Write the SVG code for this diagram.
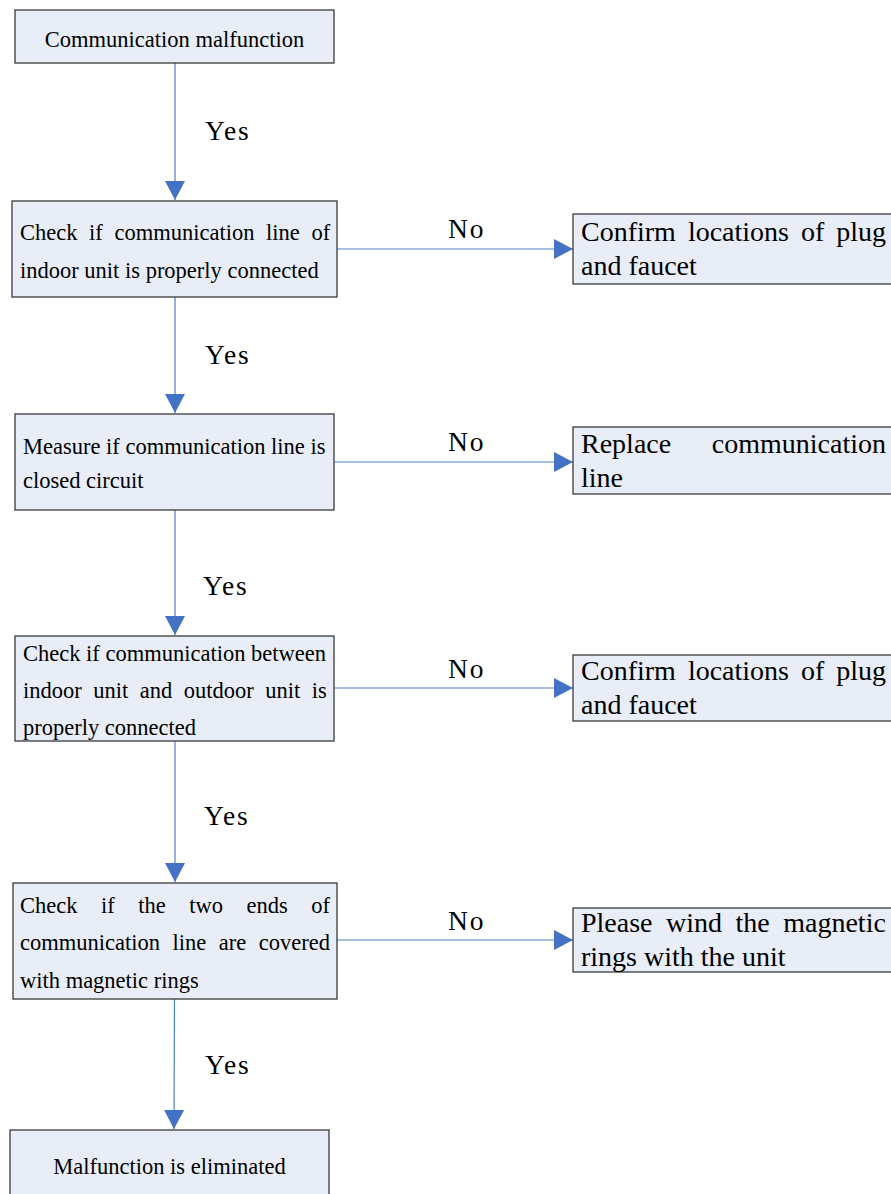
<svg xmlns="http://www.w3.org/2000/svg" width="891" height="1194" viewBox="0 0 891 1194">
<style>
.box{fill:#e8edf7;stroke:#3a3a3a;stroke-width:1.3}
.t{font-family:"Liberation Serif","Times New Roman",serif;font-size:22.5px;fill:#000}
.r{font-family:"Liberation Serif","Times New Roman",serif;font-size:28px;fill:#000}
.lbl{font-family:"Liberation Serif","Times New Roman",serif;font-size:27.5px;letter-spacing:1.8px;fill:#000}
.c{stroke:#4f81c8;stroke-width:1.2;fill:none;marker-end:url(#ah)}
</style>
<defs>
<marker id="ah" markerUnits="userSpaceOnUse" markerWidth="20" markerHeight="20" refX="19" refY="10" orient="auto">
<path d="M0,0 L19,10 L0,20 z" fill="#4472c4"/>
</marker>
</defs>
<rect width="891" height="1194" fill="#fff"/>
<g id="connectors">
<line class="c" x1="175" y1="63" x2="175" y2="200"/>
<line class="c" x1="175" y1="297" x2="175" y2="413"/>
<line class="c" x1="175" y1="510" x2="175" y2="635"/>
<line class="c" x1="175" y1="741" x2="175" y2="882"/>
<line class="c" x1="174.5" y1="999" x2="174" y2="1129"/>
<line class="c" x1="337" y1="249" x2="573" y2="249"/>
<line class="c" x1="334" y1="462" x2="573" y2="462"/>
<line class="c" x1="334" y1="688" x2="573" y2="688"/>
<line class="c" x1="337" y1="940" x2="573" y2="940"/>
<text class="lbl" x="205" y="140">Yes</text>
<text class="lbl" x="205" y="364">Yes</text>
<text class="lbl" x="203" y="595">Yes</text>
<text class="lbl" x="204" y="825">Yes</text>
<text class="lbl" x="205" y="1074">Yes</text>
<text class="lbl" x="448" y="238">No</text>
<text class="lbl" x="448" y="451">No</text>
<text class="lbl" x="448" y="678">No</text>
<text class="lbl" x="448" y="930">No</text>
</g>
<g id="n1">
<rect class="box" x="15" y="10" width="319" height="53"/>
<text class="t" x="174.5" y="46.5" text-anchor="middle">Communication malfunction</text>
</g>
<g id="n2">
<rect class="box" x="12" y="201" width="325" height="96"/>
<text class="t" x="20" y="240" word-spacing="6">Check if communication line of</text>
<text class="t" x="20" y="278">indoor unit is properly connected</text>
</g>
<g id="n3">
<rect class="box" x="15" y="414" width="319" height="96"/>
<text class="t" x="23" y="454">Measure if communication line is</text>
<text class="t" x="23" y="488">closed circuit</text>
</g>
<g id="n4">
<rect class="box" x="15" y="636" width="319" height="105"/>
<text class="t" x="23" y="661">Check if communication between</text>
<text class="t" x="23" y="698" word-spacing="5.9">indoor unit and outdoor unit is</text>
<text class="t" x="23" y="735">properly connected</text>
</g>
<g id="n5">
<rect class="box" x="13" y="883" width="324" height="116"/>
<text class="t" x="20" y="913" word-spacing="17.9">Check if the two ends of</text>
<text class="t" x="20" y="950" word-spacing="6.9">communication line are covered</text>
<text class="t" x="20" y="988">with magnetic rings</text>
</g>
<g id="n6">
<rect class="box" x="10" y="1130" width="319" height="80"/>
<text class="t" x="169.5" y="1174" text-anchor="middle">Malfunction is eliminated</text>
</g>
<g id="r1">
<rect class="box" x="573" y="214" width="330" height="70"/>
<text class="r" x="581" y="241" word-spacing="5">Confirm locations of plug</text>
<text class="r" x="581" y="275">and faucet</text>
</g>
<g id="r2">
<rect class="box" x="573" y="427" width="330" height="67"/>
<text class="r" x="581" y="453" word-spacing="33.6">Replace communication</text>
<text class="r" x="581" y="487">line</text>
</g>
<g id="r3">
<rect class="box" x="573" y="655" width="330" height="66"/>
<text class="r" x="581" y="680" word-spacing="5">Confirm locations of plug</text>
<text class="r" x="581" y="714">and faucet</text>
</g>
<g id="r4">
<rect class="box" x="573" y="908" width="330" height="64"/>
<text class="r" x="581" y="932" word-spacing="6.5">Please wind the magnetic</text>
<text class="r" x="581" y="966">rings with the unit</text>
</g>
</svg>
